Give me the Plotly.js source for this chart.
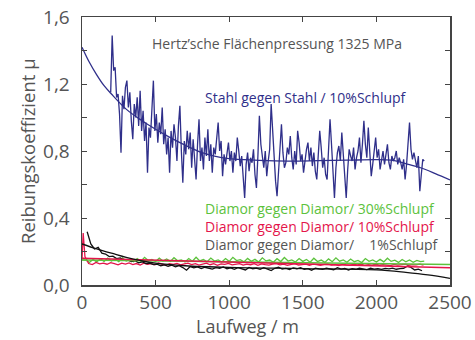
<!DOCTYPE html>
<html>
<head>
<meta charset="utf-8">
<script src="https://cdn.plot.ly/plotly-3.0.1.min.js"></script>
<style>html,body{margin:0;padding:0;background:#fff;}#chart{width:475px;height:340px;}</style>
</head>
<body>
<div id="chart"></div>
<script>
// ---- Data ----
// Stahl gegen Stahl / 10% Schlupf : raw measurement, sampled every 10 m from 195 m
const stahlStart = 195, stahlStep = 10;
const stahlMu = [
  1.15,1.49,1.28,1.30,1.12,1.14,1.02,0.79,1.13,1.05,
  1.18,1.22,1.06,1.15,0.98,0.87,1.08,1.00,1.12,0.95,
  1.16,0.92,1.04,0.86,0.97,0.67,0.94,0.88,1.05,1.22,
  0.92,1.02,0.85,0.97,0.90,1.06,0.84,0.93,0.78,0.88,
  0.67,0.92,0.82,0.96,0.88,0.74,0.95,1.07,0.80,0.61,
  0.86,0.78,0.92,0.81,0.91,0.70,0.87,0.76,0.63,0.84,
  0.99,0.74,0.82,0.69,0.88,0.77,0.93,0.74,0.84,0.67,
  0.82,0.78,0.90,0.97,0.80,0.86,0.65,0.78,0.72,0.80,
  0.85,0.74,0.80,0.67,0.79,0.74,0.88,0.80,0.71,0.77,
  0.63,0.52,0.72,0.79,0.68,0.76,0.73,0.81,0.66,0.58,
  0.77,1.01,0.84,0.77,0.70,0.80,0.65,0.74,0.81,1.08,
  0.90,0.80,0.62,0.53,0.70,0.84,0.96,0.79,0.70,0.73,
  0.82,0.78,0.89,0.76,0.69,0.80,0.72,0.92,0.85,0.74,
  0.78,0.67,0.75,0.81,0.85,0.74,0.82,0.71,0.79,0.68,
  0.63,0.78,0.92,0.82,0.70,0.76,0.66,0.63,0.80,0.99,
  0.84,0.68,0.52,0.70,0.79,0.83,0.74,0.91,0.78,0.62,
  0.52,0.69,0.81,0.77,0.74,0.82,0.69,0.76,0.80,0.88,
  0.73,0.84,0.98,0.84,0.76,0.94,0.82,0.65,0.72,0.80,
  0.88,0.76,0.81,0.69,0.74,0.80,0.72,0.78,0.84,0.73,
  0.69,0.77,0.74,0.76,0.80,0.72,0.76,0.73,0.69,0.75,
  0.63,0.72,0.85,0.97,0.81,0.75,0.79,0.73,0.70,0.77,
  0.56,0.66,0.75,0.74
];
// Stahl fit curve
const stahlFitX  = [0,50,100,150,200,300,400,500,600,700,800,900,1000,1100,1200,1400,1600,1800,2000,2100,2150,2200,2300,2400,2500];
const stahlFitMu = [1.42,1.33,1.255,1.19,1.14,1.05,0.985,0.93,0.88,0.835,0.795,0.77,0.755,0.748,0.744,0.740,0.742,0.745,0.748,0.745,0.737,0.725,0.70,0.665,0.627];

// Diamor / 30% Schlupf : every 25 m from 0 m
const gruenStart = 0, gruenStep = 25;
const gruenMu = [
  0.150,0.149,0.135,0.152,0.138,0.156,0.141,0.160,
  0.143,0.155,0.140,0.162,0.144,0.153,0.139,0.158,
  0.142,0.165,0.146,0.152,0.140,0.160,0.143,0.155,
  0.141,0.163,0.145,0.150,0.138,0.158,0.142,0.166,
  0.144,0.152,0.139,0.161,0.143,0.150,0.137,0.158,
  0.141,0.165,0.146,0.151,0.138,0.159,0.142,0.153,
  0.137,0.162,0.144,0.149,0.136,0.157,0.140,0.164,
  0.143,0.150,0.137,0.158,0.141,0.152,0.136,0.160,
  0.140,0.149,0.135,0.156,0.139,0.162,0.142,0.150,
  0.136,0.155,0.139,0.147,0.134,0.158,0.141,0.150,
  0.137,0.153,0.138,0.160,0.141,0.148,0.135,0.152,
  0.139,0.150,0.136,0.147,0.140,0.143
];
const gruenFitX = [0, 2500];
const gruenFitMu = [0.150, 0.122];

// Diamor / 10% Schlupf : start spike, then every 25 m from 20 m
const rotHeadX = [0, 8];
const rotHeadMu = [0.15, 0.31];
const rotStart = 20, rotStep = 25;
const rotMu = [
  0.170,0.128,0.122,0.135,0.126,0.131,0.124,0.133,
  0.127,0.120,0.130,0.125,0.132,0.122,0.128,0.119,
  0.130,0.124,0.127,0.121,0.131,0.125,0.118,0.128,
  0.123,0.129,0.120,0.126,0.131,0.122,0.127,0.119,
  0.125,0.130,0.121,0.127,0.118,0.126,0.123,0.129,
  0.120,0.125,0.128,0.119,0.124,0.121,0.127,0.118,
  0.126,0.122,0.119,0.125,0.128,0.120,0.124,0.117,
  0.123,0.127,0.119,0.122,0.125,0.118,0.124,0.121,
  0.117,0.123,0.126,0.119,0.122,0.116,0.124,0.120,
  0.118,0.123,0.120,0.125,0.117,0.121,0.119,0.124,
  0.118,0.122,0.120,0.116,0.123,0.119,0.121,0.125,
  0.118,0.122,0.120,0.124,0.119
];
const rotFitX = [0, 2500];
const rotFitMu = [0.160, 0.103];

// Diamor / 1% Schlupf : every 25 m from 35 m
const schwarzStart = 35, schwarzStep = 25;
const schwarzMu = [
  0.318,0.245,0.215,0.225,0.190,0.185,0.170,0.172,
  0.158,0.162,0.148,0.150,0.140,0.145,0.132,0.138,
  0.128,0.130,0.122,0.125,0.115,0.120,0.112,0.118,
  0.108,0.115,0.104,0.088,0.110,0.102,0.108,0.098,
  0.106,0.100,0.095,0.104,0.099,0.108,0.096,0.102,
  0.094,0.103,0.098,0.090,0.105,0.097,0.101,0.093,
  0.103,0.096,0.086,0.100,0.106,0.095,0.099,0.092,
  0.102,0.097,0.104,0.093,0.098,0.088,0.101,0.096,
  0.094,0.100,0.097,0.091,0.103,0.095,0.099,0.090,
  0.098,0.094,0.101,0.096,0.092,0.100,0.095,0.098,
  0.093,0.099,0.096,0.101,0.094,0.098,0.100,0.112,
  0.105,0.090,0.095,0.085
];
const schwarzFitX  = [0,100,200,300,400,500,700,1000,1500,2000,2200,2350,2500];
const schwarzFitMu = [0.245,0.215,0.19,0.165,0.145,0.13,0.115,0.105,0.098,0.09,0.075,0.06,0.04];

// Axis ticks and labels
const yTickVals = [0,0.2,0.4,0.6,0.8,1.0,1.2,1.4,1.6];
const yTickText = ["0,0","","0,4","","0,8","","1,2","","1,6"];
const xTickVals = [0,500,1000,1500,2000,2500];

const labelTitle = "Hertz’sche Flächenpressung 1325 MPa";
const labelStahl = "Stahl gegen Stahl / 10%Schlupf";
const labelD30 = "Diamor gegen Diamor/ 30%Schlupf";
const labelD10 = "Diamor gegen Diamor/ 10%Schlupf";
const labelD1  = "Diamor gegen Diamor/\u00a0\u2007\u00a01%Schlupf";
const xTitle = "Laufweg / m";
const yTitle = "Reibungskoeffizient µ";

// ---- Build ----
function grid(start, step, n){ const a=[]; for(let i=0;i<n;i++) a.push(start+i*step); return a; }

const NAVY = "#2f2f8a", GREEN = "#5cc23c", RED = "#e4154b", BLACK = "#111111", GREY = "#555555";

const traces = [
  {x: grid(gruenStart, gruenStep, gruenMu.length), y: gruenMu, mode:"lines", line:{color:GREEN, width:1.3}},
  {x: rotHeadX.concat(grid(rotStart, rotStep, rotMu.length)), y: rotHeadMu.concat(rotMu), mode:"lines", line:{color:RED, width:1.3}},
  {x: grid(schwarzStart, schwarzStep, schwarzMu.length), y: schwarzMu, mode:"lines", line:{color:BLACK, width:1.3}},
  {x: gruenFitX, y: gruenFitMu, mode:"lines", line:{color:GREEN, width:1.5}},
  {x: rotFitX, y: rotFitMu, mode:"lines", line:{color:RED, width:1.5}},
  {x: schwarzFitX, y: schwarzFitMu, mode:"lines", line:{color:BLACK, width:1.3, shape:"spline"}},
  {x: grid(stahlStart, stahlStep, stahlMu.length), y: stahlMu, mode:"lines", line:{color:NAVY, width:1.3}},
  {x: stahlFitX, y: stahlFitMu, mode:"lines", line:{color:NAVY, width:1.3, shape:"spline"}}
];

const FONT = "Open Sans, Noto Sans, sans-serif";
const ann = (text, x, y, color, size) => ({text, x, y, xref:"x", yref:"y", xanchor:"left", yanchor:"middle", align:"left", showarrow:false, font:{family:FONT, size:size, color}});

const diamorBlock =
  '<span style="color:' + GREEN + '">' + labelD30 + '</span><br>' +
  '<span style="color:' + RED + '">' + labelD10 + '</span><br>' +
  '<span style="color:' + GREY + '">' + labelD1 + '</span>';

const layout = {
  width:475, height:340,
  margin:{l:82, r:25, t:17, b:55},
  paper_bgcolor:"#fff", plot_bgcolor:"#fff",
  showlegend:false,
  separators:", ",
  font:{family:FONT, color:GREY, size:18},
  xaxis:{range:[0,2500], tickvals:xTickVals, ticks:"inside", ticklen:5, tickcolor:"#444", showline:true, linecolor:"#444", linewidth:1.5, mirror:"ticks", showgrid:false, zeroline:false, tickfont:{size:19, color:GREY}},
  yaxis:{range:[0,1.6], tickvals:yTickVals, ticktext:yTickText, ticks:"inside", ticklen:5, tickcolor:"#444", showline:true, linecolor:"#444", linewidth:1.5, mirror:"ticks", showgrid:false, zeroline:false, ticklabelstandoff:7, tickfont:{size:19, color:GREY}},
  annotations:[
    ann(labelTitle, 460, 1.44, GREY, 14),
    ann(labelStahl, 823, 1.12, NAVY, 14),
    ann(diamorBlock, 823, 0.352, GREY, 14),
    {text:xTitle, xref:"paper", yref:"paper", x:(247-82)/368, y:-(326-285)/268, xanchor:"center", yanchor:"middle", showarrow:false, font:{family:FONT, size:18, color:GREY}},
    {text:yTitle, xref:"paper", yref:"paper", x:-(82-27)/368, y:0.5, xanchor:"center", yanchor:"middle", textangle:-90, showarrow:false, font:{family:FONT, size:18.5, color:GREY}}
  ]
};

Plotly.newPlot("chart", traces, layout, {displayModeBar:false, staticPlot:true});
</script>
</body>
</html>
